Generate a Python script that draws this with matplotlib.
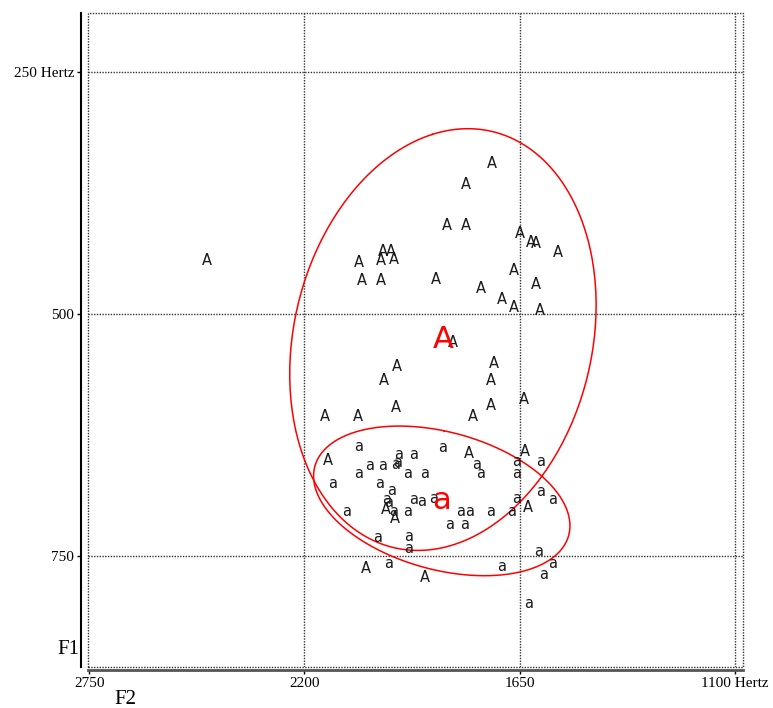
import matplotlib.pyplot as plt
import numpy as np
from matplotlib.patches import Rectangle

# formant measurements in Hz, vowel category "A"
f2_A = [1721, 1787, 1836, 1787, 1649, 1622, 1610, 1554, 2001, 1979, 2060, 2005,
        1971, 2053, 2005, 1864, 1666, 1749, 1697, 1666, 1610, 1598, 2449, 1820,
        1964, 1998, 1967, 2147, 2064, 1717, 1723, 1724, 1770, 1639, 2139, 1779,
        1638, 1991, 1968, 1629, 2042, 1892]
f1_A = [345, 366, 409, 409, 417, 426, 427, 437, 436, 436, 447, 445,
        444, 465, 465, 464, 455, 474, 485, 493, 470, 496, 445, 530,
        554, 569, 597, 606, 606, 551, 569, 595, 606, 589, 652, 644,
        642, 702, 711, 700, 763, 772]

# formant measurements in Hz, vowel category "a"
f2_a = [2062, 1959, 1922, 1848, 1761, 1750, 1659, 1659, 1598, 2033, 2000, 1968,
        1963, 2062, 1936, 1894, 2128, 2007, 1977, 1989, 1986, 1922, 1900, 1871,
        1659, 1598, 1566, 2092, 1973, 1936, 1802, 1779, 1724, 1671, 1830, 1790,
        2012, 1935, 1935, 1603, 1984, 1696, 1566, 1590, 1628]
f1_a = [637, 645, 645, 638, 656, 665, 653, 665, 653, 657, 657, 656,
        654, 665, 665, 665, 675, 675, 683, 692, 695, 692, 694, 691,
        691, 684, 692, 704, 704, 704, 704, 704, 704, 704, 718, 718,
        731, 730, 742, 746, 758, 761, 758, 769, 799]

x_ticks = [2750, 2200, 1650, 1100]
x_labels = ['2750', '2200', '1650', '1100 Hertz']
y_ticks = [250, 500, 750]
y_labels = ['250 Hertz', '500', '750']


def sd_ellipse(x, y, n_sd=2.0, n=240):
    x = np.asarray(x, float)
    y = np.asarray(y, float)
    vals, vecs = np.linalg.eigh(np.cov(x, y))
    t = np.linspace(0, 2 * np.pi, n)
    circ = np.vstack([np.cos(t), np.sin(t)])
    pts = vecs @ (n_sd * np.sqrt(vals)[:, None] * circ)
    return x.mean() + pts[0], y.mean() + pts[1]


fig = plt.figure(figsize=(7.73, 7.08), dpi=100)
ax = fig.add_axes([0.1138, 0.0579, 0.8474, 0.9237])
ax.set_xlim(2753, 1080)
ax.set_ylim(865, 189)

dots = (0, (1, 1))
ax.add_patch(Rectangle((0, 0), 1, 1, transform=ax.transAxes, fill=False,
                       ls=dots, lw=1, ec='#333333', clip_on=False, zorder=1))
for xv in x_ticks[1:]:
    ax.axvline(xv, ls=dots, lw=1, color='#333333', zorder=1)
for yv in y_ticks:
    ax.axhline(yv, ls=dots, lw=1, color='#333333', zorder=1)

ax.spines['top'].set_visible(False)
ax.spines['right'].set_visible(False)
ax.spines['left'].set_position(('outward', 5))
ax.spines['left'].set_linewidth(1.5)
ax.spines['bottom'].set_position(('outward', 2))
ax.spines['bottom'].set_linewidth(2)
ax.spines['bottom'].set_color('#555555')

ax.set_xticks(x_ticks)
ax.set_xticklabels(x_labels)
ax.set_yticks(y_ticks)
ax.set_yticklabels(y_labels)
ax.tick_params(direction='out', length=3, width=1, pad=2, labelsize=11)
for lab in ax.get_xticklabels() + ax.get_yticklabels():
    lab.set_family('Liberation Serif')

for x, y in zip(f2_A, f1_A):
    ax.text(x, y, 'A', ha='center', va='center', fontsize=10.5,
            family='DejaVu Sans', color='#1a1a1a', zorder=3)
for x, y in zip(f2_a, f1_a):
    ax.text(x, y, 'a', ha='center', va='center', fontsize=10.5,
            family='DejaVu Sans', color='#1a1a1a', zorder=3)

# 2-SD ellipse and mean label per vowel
for xs, ys, lab in [(f2_A, f1_A, 'A'), (f2_a, f1_a, 'a')]:
    ex, ey = sd_ellipse(xs, ys)
    ax.plot(ex, ey, color='red', lw=1.1, zorder=2)
    ax.text(np.mean(xs), np.mean(ys), lab, ha='center', va='center',
            fontsize=22, family='DejaVu Sans', color='red', zorder=4)

fig.text(68 / 773, 1 - 650 / 708, 'F1', family='Liberation Serif',
         fontsize=15, ha='center', va='center')
fig.text(125 / 773, 1 - 700 / 708, 'F2', family='Liberation Serif',
         fontsize=15, ha='center', va='center')

fig.savefig('out.png', dpi=100)
